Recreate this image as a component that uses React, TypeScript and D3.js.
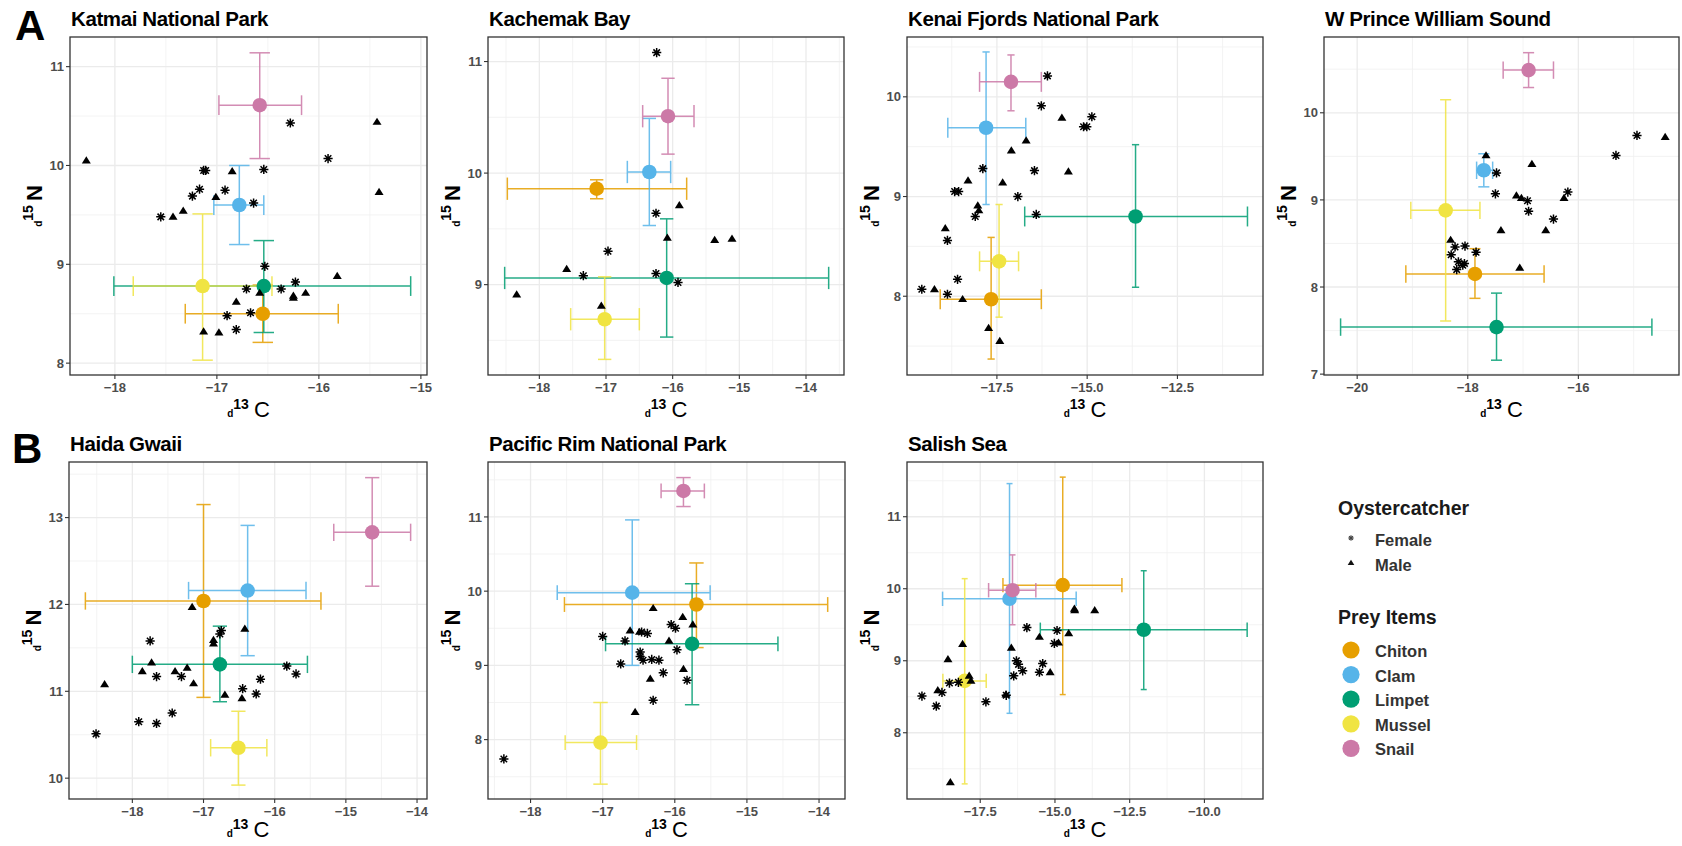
import * as d3 from 'd3'

// prey legend order, Okabe-Ito colours
const preyNames = ['Chiton', 'Clam', 'Limpet', 'Mussel', 'Snail']
const preyColors = ['#E69F00', '#56B4E9', '#009E73', '#F0E442', '#CC79A7']

// prey rows: [meanC, meanN, cMin, cMax, nMin, nMax] in preyNames order
const katmaiPrey = [
  [-16.55, 8.5, -17.31, -15.81, 8.21, 8.79],
  [-16.78, 9.6, -17.03, -16.54, 9.2, 10.0],
  [-16.54, 8.78, -18.01, -15.1, 8.31, 9.24],
  [-17.14, 8.78, -17.82, -16.46, 8.03, 9.51],
  [-16.58, 10.61, -16.98, -16.17, 10.07, 11.14],
]
const kachemakPrey = [
  [-17.14, 9.86, -18.48, -15.79, 9.77, 9.94],
  [-16.35, 10.01, -16.68, -16.03, 9.53, 10.49],
  [-16.09, 9.06, -18.52, -13.66, 8.53, 9.59],
  [-17.02, 8.69, -17.53, -16.5, 8.33, 9.07],
  [-16.07, 10.51, -16.45, -15.68, 10.17, 10.85],
]
const kenaiPrey = [
  [-17.66, 7.97, -19.07, -16.27, 7.37, 8.59],
  [-17.8, 9.69, -18.86, -16.7, 8.92, 10.45],
  [-13.66, 8.8, -16.73, -10.56, 8.09, 9.52],
  [-17.44, 8.35, -17.98, -16.9, 7.79, 8.92],
  [-17.11, 10.15, -17.98, -16.27, 9.86, 10.42],
]
const pwsPrey = [
  [-17.87, 8.15, -19.12, -16.62, 7.87, 8.44],
  [-17.71, 9.34, -17.84, -17.55, 9.15, 9.53],
  [-17.48, 7.54, -20.3, -14.67, 7.16, 7.93],
  [-18.4, 8.88, -19.03, -17.78, 7.61, 10.15],
  [-16.9, 10.49, -17.36, -16.45, 10.29, 10.69],
]
const haidaPrey = [
  [-17.0, 12.04, -18.66, -15.35, 10.93, 13.15],
  [-16.38, 12.16, -17.21, -15.56, 11.41, 12.91],
  [-16.77, 11.31, -18.0, -15.54, 10.88, 11.75],
  [-16.51, 10.35, -16.9, -16.11, 9.92, 10.77],
  [-14.63, 12.83, -15.17, -14.09, 12.21, 13.46],
]
const pacRimPrey = [
  [-15.7, 9.82, -17.53, -13.88, 9.24, 10.38],
  [-16.59, 9.98, -17.63, -15.51, 9.0, 10.96],
  [-15.76, 9.29, -16.96, -14.57, 8.47, 10.1],
  [-17.03, 7.96, -17.52, -16.53, 7.4, 8.5],
  [-15.88, 11.35, -16.19, -15.59, 11.14, 11.53],
]
const salishPrey = [
  [-14.74, 10.05, -16.74, -12.76, 8.53, 11.55],
  [-16.52, 9.86, -18.76, -14.29, 8.27, 11.46],
  [-12.03, 9.43, -15.49, -8.57, 8.6, 10.25],
  [-18.02, 8.72, -18.75, -17.3, 7.29, 10.14],
  [-16.42, 9.98, -17.22, -15.64, 9.5, 10.47],
]

// oystercatchers: [d13C, d15N]
const katmaiFemale = [
  [-16.28, 10.43], [-15.91, 10.07], [-17.11, 9.95], [-17.13, 9.95], [-16.54, 9.96], [-17.17, 9.76],
  [-17.24, 9.69], [-16.92, 9.75], [-17.55, 9.48], [-16.64, 9.62], [-16.53, 8.98], [-16.71, 8.75],
  [-16.37, 8.75], [-16.23, 8.82], [-16.67, 8.51], [-16.9, 8.48], [-16.81, 8.34],
]
const katmaiMale = [
  [-18.28, 10.05], [-15.43, 10.44], [-15.41, 9.73], [-16.85, 9.94], [-17.01, 9.68], [-17.33, 9.54],
  [-17.43, 9.48], [-15.82, 8.88], [-16.58, 8.71], [-16.81, 8.62], [-16.25, 8.66], [-16.25, 8.68],
  [-16.13, 8.71], [-17.13, 8.32], [-16.98, 8.31],
]
const kachemakFemale = [
  [-16.24, 11.08], [-16.25, 9.64], [-16.97, 9.3], [-17.34, 9.08], [-16.25, 9.1], [-15.92, 9.02],
]
const kachemakMale = [
  [-15.9, 9.71], [-16.08, 9.42], [-15.37, 9.4], [-15.11, 9.41], [-17.59, 9.14], [-18.34, 8.91], [-17.07, 8.81],
]
const kenaiFemale = [
  [-16.1, 10.21], [-16.27, 9.91], [-14.87, 9.8], [-15.1, 9.7], [-15.01, 9.7], [-17.89, 9.28],
  [-16.46, 9.26], [-18.67, 9.05], [-18.56, 9.05], [-16.92, 9.0], [-18.1, 8.8], [-16.41, 8.82],
  [-18.87, 8.56], [-18.59, 8.17], [-18.87, 8.02], [-19.58, 8.07],
]
const kenaiMale = [
  [-15.7, 9.79], [-16.69, 9.56], [-17.1, 9.46], [-15.52, 9.25], [-18.3, 9.16], [-17.34, 9.14],
  [-18.03, 8.91], [-18.0, 8.86], [-18.93, 8.68], [-19.23, 8.07], [-18.45, 7.97], [-17.73, 7.68], [-17.42, 7.55],
]
const pwsFemale = [
  [-14.94, 9.74], [-15.32, 9.51], [-17.48, 9.31], [-17.5, 9.07], [-16.92, 8.99], [-16.9, 8.87],
  [-16.19, 9.09], [-16.45, 8.78], [-18.23, 8.46], [-18.05, 8.47], [-17.85, 8.4], [-18.3, 8.37],
  [-18.17, 8.29], [-18.06, 8.27], [-18.2, 8.2], [-18.09, 8.25],
]
const pwsMale = [
  [-14.43, 9.72], [-17.67, 9.51], [-16.84, 9.41], [-17.12, 9.05], [-17.03, 9.02], [-16.26, 9.02],
  [-17.4, 8.65], [-16.59, 8.65], [-18.31, 8.54], [-17.06, 8.22],
]
const haidaFemale = [
  [-17.75, 11.58], [-16.75, 11.7], [-16.77, 11.66], [-17.66, 11.17], [-17.31, 11.17], [-15.83, 11.29],
  [-15.7, 11.2], [-16.2, 11.14], [-16.45, 11.03], [-16.26, 10.97], [-17.44, 10.75], [-17.91, 10.65],
  [-17.66, 10.63], [-18.51, 10.51],
]
const haidaMale = [
  [-17.16, 11.97], [-16.42, 11.72], [-16.86, 11.59], [-16.86, 11.55], [-17.73, 11.33], [-17.86, 11.23],
  [-17.4, 11.23], [-17.23, 11.27], [-18.39, 11.08], [-17.14, 11.09], [-16.7, 10.96], [-16.46, 10.92],
]
const pacRimFemale = [
  [-17.0, 9.39], [-16.69, 9.33], [-16.46, 9.45], [-16.38, 9.43], [-16.05, 9.55], [-15.99, 9.5],
  [-15.97, 9.21], [-16.48, 9.18], [-16.48, 9.12], [-16.44, 9.07], [-16.32, 9.08], [-16.22, 9.07],
  [-16.75, 9.02], [-16.16, 8.9], [-15.83, 8.8], [-16.3, 8.53], [-18.37, 7.74],
]
const pacRimMale = [
  [-16.3, 9.77], [-15.89, 9.65], [-15.75, 9.55], [-16.62, 9.47], [-16.49, 9.45], [-16.08, 9.33],
  [-15.88, 8.95], [-16.34, 8.82], [-16.55, 8.37],
]
const salishFemale = [
  [-15.94, 9.46], [-14.93, 9.42], [-15.02, 9.24], [-16.29, 9.0], [-16.22, 8.95], [-16.08, 8.86],
  [-15.41, 8.96], [-15.52, 8.84], [-16.38, 8.79], [-18.53, 8.69], [-18.23, 8.7], [-18.78, 8.56],
  [-19.45, 8.51], [-18.97, 8.37], [-17.31, 8.43], [-16.63, 8.52],
]
const salishMale = [
  [-14.35, 9.72], [-14.34, 9.7], [-13.67, 9.7], [-15.52, 9.33], [-14.54, 9.38], [-14.88, 9.25],
  [-18.09, 9.23], [-16.46, 9.18], [-18.58, 9.02], [-15.16, 8.84], [-17.87, 8.79], [-17.81, 8.72],
  [-16.64, 8.53], [-18.5, 7.31], [-18.92, 8.59],
]

const siteNames = [
  'Katmai National Park', 'Kachemak Bay', 'Kenai Fjords National Park', 'W Prince William Sound',
  'Haida Gwaii', 'Pacific Rim National Park', 'Salish Sea',
]
const xDomains = [[-18.44, -14.94], [-18.77, -13.43], [-19.99, -10.13], [-20.6, -14.18], [-18.89, -13.86], [-18.59, -13.64], [-19.95, -8.04]]
const yDomains = [[7.88, 11.3], [8.19, 11.22], [7.21, 10.6], [6.99, 10.87], [9.76, 13.64], [7.2, 11.74], [7.08, 11.76]]
const xTickVals = [[-18, -17, -16, -15], [-18, -17, -16, -15, -14], [-17.5, -15, -12.5], [-20, -18, -16], [-18, -17, -16, -15, -14], [-18, -17, -16, -15, -14], [-17.5, -15, -12.5, -10]]
const yTickVals = [[8, 9, 10, 11], [9, 10, 11], [8, 9, 10], [7, 8, 9, 10], [10, 11, 12, 13], [8, 9, 10, 11], [8, 9, 10, 11]]
const preyBySite = [katmaiPrey, kachemakPrey, kenaiPrey, pwsPrey, haidaPrey, pacRimPrey, salishPrey]
const femaleBySite = [katmaiFemale, kachemakFemale, kenaiFemale, pwsFemale, haidaFemale, pacRimFemale, salishFemale]
const maleBySite = [katmaiMale, kachemakMale, kenaiMale, pwsMale, haidaMale, pacRimMale, salishMale]

// panel boxes in px: [left, top, right, bottom]
const boxes = [
  [70, 37, 427, 375], [488, 37, 844, 375], [907, 37, 1263, 375], [1324, 37, 1679, 375],
  [69, 462, 427, 799], [488, 462, 845, 799], [907, 462, 1263, 799],
]

const FONT = '"Liberation Sans", Arial, Helvetica, sans-serif'
const CAP = 0.2 // errorbar cap size in data units

function Asterisk({ x, y, r = 4.6, color = '#000', w = 1.5 }) {
  const d = [0, 45, 90, 135].map((a) => {
    const dx = r * Math.cos((a * Math.PI) / 180)
    const dy = r * Math.sin((a * Math.PI) / 180)
    return `M${x - dx},${y - dy}L${x + dx},${y + dy}`
  }).join('')
  return <path d={d} stroke={color} strokeWidth={w} fill="none" />
}

function Triangle({ x, y, s = 4.5, color = '#000' }) {
  const h = s * 1.6
  return <path d={`M${x},${y - h * 0.6}L${x + s},${y + h * 0.4}L${x - s},${y + h * 0.4}Z`} fill={color} />
}

function minors(ticks, dom) {
  const step = ticks[1] - ticks[0]
  const out = [ticks[0] - step / 2, ...ticks.map((t) => t + step / 2)]
  return out.filter((v) => v > dom[0] && v < dom[1])
}

function fmt(v, ticks) {
  const dec = ticks.some((t) => !Number.isInteger(t)) ? 1 : 0
  return (v < 0 ? '\u2212' : '') + Math.abs(v).toFixed(dec)
}

function Panel({ i }) {
  const [l, t, r, b] = boxes[i]
  const x = d3.scaleLinear().domain(xDomains[i]).range([l, r])
  const y = d3.scaleLinear().domain(yDomains[i]).range([b, t])
  const xt = xTickVals[i]
  const yt = yTickVals[i]
  const capX = Math.abs(x(CAP) - x(0)) / 2
  const capY = Math.abs(y(0) - y(CAP)) / 2
  const cx = (l + r) / 2
  const cy = (t + b) / 2
  const labelY = i < 4 ? b + 42 : b + 38
  return (
    <g>
      <rect x={l} y={t} width={r - l} height={b - t} fill="#fff" />
      {minors(xt, xDomains[i]).map((v) => (
        <line key={'mx' + v} x1={x(v)} x2={x(v)} y1={t} y2={b} stroke="#F0F0F0" strokeWidth={0.8} />
      ))}
      {minors(yt, yDomains[i]).map((v) => (
        <line key={'my' + v} x1={l} x2={r} y1={y(v)} y2={y(v)} stroke="#F0F0F0" strokeWidth={0.8} />
      ))}
      {xt.map((v) => (
        <line key={'gx' + v} x1={x(v)} x2={x(v)} y1={t} y2={b} stroke="#EBEBEB" strokeWidth={1.3} />
      ))}
      {yt.map((v) => (
        <line key={'gy' + v} x1={l} x2={r} y1={y(v)} y2={y(v)} stroke="#EBEBEB" strokeWidth={1.3} />
      ))}
      {preyBySite[i].map((p, k) => (
        <g key={'eb' + k} stroke={preyColors[k]} strokeWidth={1.5} opacity={0.85} fill="none">
          <line x1={x(p[0])} x2={x(p[0])} y1={y(p[4])} y2={y(p[5])} />
          <line x1={x(p[0]) - capX} x2={x(p[0]) + capX} y1={y(p[4])} y2={y(p[4])} />
          <line x1={x(p[0]) - capX} x2={x(p[0]) + capX} y1={y(p[5])} y2={y(p[5])} />
          <line x1={x(p[2])} x2={x(p[3])} y1={y(p[1])} y2={y(p[1])} />
          <line x1={x(p[2])} x2={x(p[2])} y1={y(p[1]) - capY} y2={y(p[1]) + capY} />
          <line x1={x(p[3])} x2={x(p[3])} y1={y(p[1]) - capY} y2={y(p[1]) + capY} />
        </g>
      ))}
      {preyBySite[i].map((p, k) => (
        <circle key={'pp' + k} cx={x(p[0])} cy={y(p[1])} r={7.3} fill={preyColors[k]} />
      ))}
      {maleBySite[i].map((p, k) => (
        <Triangle key={'m' + k} x={x(p[0])} y={y(p[1])} />
      ))}
      {femaleBySite[i].map((p, k) => (
        <Asterisk key={'f' + k} x={x(p[0])} y={y(p[1])} />
      ))}
      <rect x={l} y={t} width={r - l} height={b - t} fill="none" stroke="#333" strokeWidth={1.3} />
      {xt.map((v) => (
        <g key={'tx' + v}>
          <line x1={x(v)} x2={x(v)} y1={b} y2={b + 4} stroke="#333" strokeWidth={1.1} />
          <text x={x(v)} y={b + 17} textAnchor="middle" fontSize={13} fontWeight="bold" fill="#4D4D4D">
            {fmt(v, xt)}
          </text>
        </g>
      ))}
      {yt.map((v) => (
        <g key={'ty' + v}>
          <line x1={l - 4} x2={l} y1={y(v)} y2={y(v)} stroke="#333" strokeWidth={1.1} />
          <text x={l - 6} y={y(v) + 4.6} textAnchor="end" fontSize={13} fontWeight="bold" fill="#4D4D4D">
            {fmt(v, yt)}
          </text>
        </g>
      ))}
      <text x={l + 1} y={t - 11} fontSize={20.5} fontWeight="bold" fill="#000" letterSpacing={-0.4}>
        {siteNames[i]}
      </text>
      <text x={cx} y={labelY} textAnchor="middle" fill="#000">
        <tspan fontSize={10} fontWeight="bold">d</tspan>
        <tspan fontSize={14} fontWeight="bold" dy={-8}>13</tspan>
        <tspan fontSize={22} dx={5} dy={8}>C</tspan>
      </text>
      <text transform={`translate(${l - 28},${cy}) rotate(-90)`} textAnchor="middle" fill="#000">
        <tspan fontSize={10} fontWeight="bold">d</tspan>
        <tspan fontSize={14} fontWeight="bold" dy={-9}>15</tspan>
        <tspan fontSize={22} fontWeight="bold" dx={4} dy={9}>N</tspan>
      </text>
    </g>
  )
}

function Legend() {
  const lx = 1338
  const sx = 1351
  const tx = 1375
  const rows = d3.range(preyNames.length)
  return (
    <g>
      <text x={lx} y={515} fontSize={19.5} fontWeight="bold" fill="#1a1a1a">Oystercatcher</text>
      <Asterisk x={sx} y={538} r={2.8} color="#444" w={1.1} />
      <text x={tx} y={546} fontSize={16.5} fontWeight="bold" fill="#333">Female</text>
      <Triangle x={sx} y={563} s={3.3} color="#111" />
      <text x={tx} y={571} fontSize={16.5} fontWeight="bold" fill="#333">Male</text>
      <text x={lx} y={624} fontSize={19.5} fontWeight="bold" fill="#1a1a1a">Prey Items</text>
      {rows.map((k) => (
        <g key={k}>
          <circle cx={sx} cy={650 + k * 24.6} r={8.6} fill={preyColors[k]} />
          <text x={tx} y={657 + k * 24.6} fontSize={16.5} fontWeight="bold" fill="#333">{preyNames[k]}</text>
        </g>
      ))}
    </g>
  )
}

export default function App() {
  return (
    <svg
      width={1682}
      height={846}
      style={{ position: 'absolute', left: 0, top: 0, background: '#fff', fontFamily: FONT }}
    >
      <rect width={1682} height={846} fill="#fff" />
      <text x={15} y={40} fontSize={42} fontWeight="bold" fill="#000">A</text>
      <text x={12} y={463} fontSize={42} fontWeight="bold" fill="#000">B</text>
      {boxes.map((_, i) => (
        <Panel key={i} i={i} />
      ))}
      <Legend />
    </svg>
  )
}
